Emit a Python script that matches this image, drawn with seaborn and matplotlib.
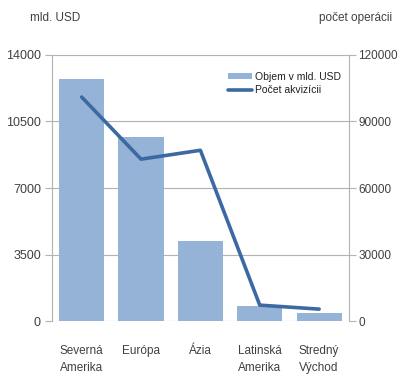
import matplotlib
matplotlib.use("Agg")
import matplotlib.pyplot as plt
import seaborn as sns
import pandas as pd

regions = ["Severná\nAmerika", "Európa", "Ázia", "Latinská\nAmerika", "Stredný\nVýchod"]
volume_bn_usd = [12740, 9680, 4210, 790, 420]
deal_count = [101000, 73000, 77000, 7200, 5400]

left_ticks = [0, 3500, 7000, 10500, 14000]
right_ticks = [0, 30000, 60000, 90000, 120000]

df = pd.DataFrame({"region": regions, "volume": volume_bn_usd, "deals": deal_count})

sns.set_theme(style="white")
plt.rcParams["font.family"] = ["Liberation Sans", "DejaVu Sans"]

text_col = "#404040"
grid_col = "#b3b3b3"
bar_col = "#95b3d7"
line_col = "#3d69a3"

fig = plt.figure(figsize=(4.0, 3.76), dpi=100)
ax = fig.add_axes([0.13, 0.146, 0.742, 0.708])

sns.barplot(data=df, x="region", y="volume", color=bar_col, saturation=1,
            width=0.76, ax=ax, zorder=2)
for p in ax.patches:
    p.set_edgecolor("none")

ax.set_ylim(0, 14000)
ax.set_yticks(left_ticks)
ax.set_yticklabels([str(t) for t in left_ticks])
ax.yaxis.grid(True, color=grid_col, linewidth=0.8, zorder=0)
ax.set_axisbelow(True)
ax.set_xlabel("")
ax.set_ylabel("")
for s in ["top", "right", "bottom"]:
    ax.spines[s].set_visible(False)
ax.spines["left"].set_color(grid_col)
ax.spines["left"].set_linewidth(0.8)
ax.tick_params(axis="y", which="both", left=True, length=5, width=0.8,
               color=grid_col, labelsize=9, labelcolor=text_col, pad=3)
ax.tick_params(axis="x", bottom=False, labelsize=8.5, labelcolor=text_col, pad=11)
for lbl in ax.get_xticklabels():
    lbl.set_linespacing(1.55)

ax2 = ax.twinx()
sns.lineplot(data=df, x="region", y="deals", color=line_col, linewidth=2.6,
             ax=ax2, sort=False)
ax2.set_ylim(0, 120000)
ax2.set_yticks(right_ticks)
ax2.set_yticklabels([str(t) for t in right_ticks])
ax2.set_ylabel("")
for s in ["top", "left", "bottom"]:
    ax2.spines[s].set_visible(False)
ax2.spines["right"].set_color(grid_col)
ax2.spines["right"].set_linewidth(0.8)
ax2.tick_params(axis="y", right=True, length=5, width=0.8, color=grid_col,
                labelsize=8.5, labelcolor=text_col, pad=2)
ax.set_xlim(-0.5, 4.5)

# combined legend inside the upper right of the plot area
bar_handle = ax.patches[0]
line_handle = ax2.get_lines()[0]
leg = ax2.legend([bar_handle, line_handle], ["Objem v mld. USD", "Počet akvizícii"],
                 loc="upper right", bbox_to_anchor=(0.995, 0.96), frameon=False,
                 fontsize=7.5, handlelength=2.3, handleheight=0.6,
                 handletextpad=0.3, labelspacing=0.35, borderaxespad=0.2)
for t in leg.get_texts():
    t.set_color("#202020")

fig.text(0.075, 0.952, "mld. USD", fontsize=8.5, color=text_col, ha="left", va="center")
fig.text(0.98, 0.952, "počet operácii", fontsize=8.5, color=text_col, ha="right", va="center")

fig.savefig("out.png", dpi=100, facecolor="white")
